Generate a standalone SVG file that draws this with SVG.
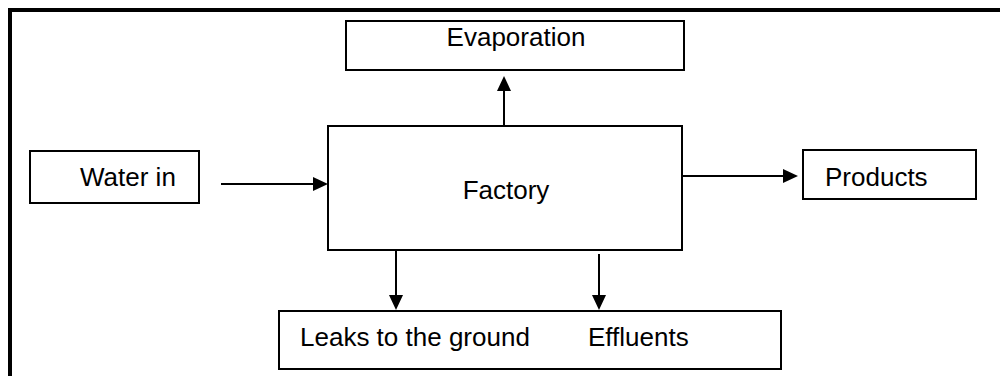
<svg xmlns="http://www.w3.org/2000/svg" width="1000" height="376" viewBox="0 0 1000 376">
<style>
.box{fill:#fff;stroke:#000;stroke-width:2}
.lbl{font-family:"Liberation Sans",Arial,sans-serif;font-size:26px;fill:#000}
.con{stroke:#000;stroke-width:2;fill:none}
.head{fill:#000}
</style>
<rect width="1000" height="376" fill="#fff"/>
<path d="M10,376 V10 H1000" fill="none" stroke="#000" stroke-width="4"/>
<g id="evaporation">
<rect class="box" x="346" y="21" width="338" height="49"/>
<text class="lbl" x="516" y="46" text-anchor="middle">Evaporation</text>
</g>
<g id="factory">
<rect class="box" x="328" y="126" width="354" height="124"/>
<text class="lbl" x="506" y="199" text-anchor="middle">Factory</text>
</g>
<g id="water-in">
<rect class="box" x="30" y="151" width="169" height="52"/>
<text class="lbl" x="80" y="186">Water in</text>
</g>
<g id="products">
<rect class="box" x="803" y="150" width="173" height="49"/>
<text class="lbl" x="825" y="186">Products</text>
</g>
<g id="outputs">
<rect class="box" x="279" y="311" width="502" height="58"/>
<text class="lbl" x="300" y="346">Leaks to the ground</text>
<text class="lbl" x="588" y="346">Effluents</text>
</g>
<g id="connectors">
<line class="con" x1="504" y1="126" x2="504" y2="90"/>
<polygon class="head" points="504,76 497,91 511,91"/>
<line class="con" x1="221" y1="184" x2="314" y2="184"/>
<polygon class="head" points="328,184 313,177 313,191"/>
<line class="con" x1="682" y1="176" x2="784" y2="176"/>
<polygon class="head" points="798,176 783,169 783,183"/>
<line class="con" x1="396" y1="250" x2="396" y2="296"/>
<polygon class="head" points="396,310 389,295 403,295"/>
<line class="con" x1="599" y1="254" x2="599" y2="296"/>
<polygon class="head" points="599,310 592,295 606,295"/>
</g>
</svg>
